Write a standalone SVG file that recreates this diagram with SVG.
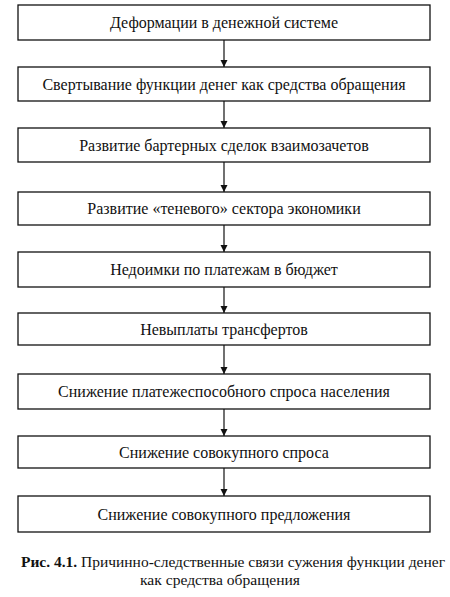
<svg xmlns="http://www.w3.org/2000/svg" width="450" height="597" viewBox="0 0 450 597" font-family="Liberation Serif, Times New Roman, serif">
<style>
.box{fill:#fff;stroke:#111;stroke-width:1.3}
.t{font-size:16px;fill:#111;text-anchor:middle}
.cap{font-size:15.2px;fill:#111}
.c{stroke:#111;stroke-width:1.2;fill:none;marker-end:url(#ah)}
</style>
<defs>
<marker id="ah" markerWidth="8" markerHeight="10" refX="7" refY="5" orient="auto" markerUnits="userSpaceOnUse">
<path d="M0,1.5 L7,5 L0,8.5 Z" fill="#111"/>
</marker>
</defs>
<rect width="450" height="597" fill="#fff"/>
<g id="connectors">
<line class="c" x1="224" y1="40" x2="224" y2="67"/>
<line class="c" x1="224" y1="101" x2="224" y2="128"/>
<line class="c" x1="224" y1="162" x2="224" y2="192"/>
<line class="c" x1="224" y1="225" x2="224" y2="252"/>
<line class="c" x1="224" y1="287" x2="224" y2="313"/>
<line class="c" x1="224" y1="345" x2="224" y2="374"/>
<line class="c" x1="224" y1="409" x2="224" y2="436"/>
<line class="c" x1="224" y1="468" x2="224" y2="496"/>
</g>
<g id="n1"><rect class="box" x="18" y="5" width="412" height="35"/><text class="t" x="224" y="28">Деформации в денежной системе</text></g>
<g id="n2"><rect class="box" x="18" y="67" width="412" height="34"/><text class="t" x="224" y="89.5">Свертывание функции денег как средства обращения</text></g>
<g id="n3"><rect class="box" x="18" y="128" width="412" height="34"/><text class="t" x="224" y="150.5">Развитие бартерных сделок взаимозачетов</text></g>
<g id="n4"><rect class="box" x="18" y="192" width="412" height="33"/><text class="t" x="224" y="214">Развитие «теневого» сектора экономики</text></g>
<g id="n5"><rect class="box" x="18" y="252" width="412" height="35"/><text class="t" x="224" y="275">Недоимки по платежам в бюджет</text></g>
<g id="n6"><rect class="box" x="18" y="313" width="412" height="32"/><text class="t" x="224" y="334.5">Невыплаты трансфертов</text></g>
<g id="n7"><rect class="box" x="18" y="374" width="412" height="35"/><text class="t" x="224" y="397">Снижение платежеспособного спроса населения</text></g>
<g id="n8"><rect class="box" x="18" y="436" width="412" height="32"/><text class="t" x="224" y="457.5">Снижение совокупного спроса</text></g>
<g id="n9"><rect class="box" x="18" y="496" width="412" height="36"/><text class="t" x="224" y="519.5">Снижение совокупного предложения</text></g>
<g id="caption">
<text class="cap" x="21" y="567" textLength="424" lengthAdjust="spacingAndGlyphs"><tspan font-weight="bold">Рис. 4.1.</tspan> Причинно-следственные связи сужения функции денег</text>
<text class="cap" x="220" y="585" text-anchor="middle" style="font-size:15.6px">как средства обращения</text>
</g>
</svg>
